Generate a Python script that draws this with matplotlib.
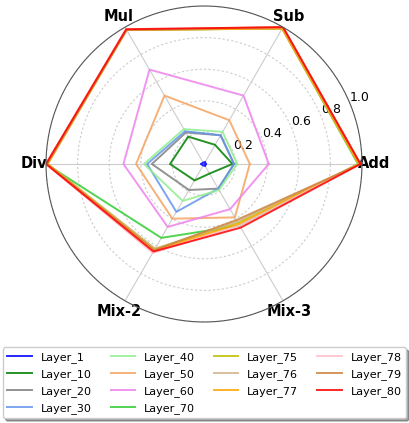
import numpy as np
import matplotlib.pyplot as plt

tasks = ['Add', 'Sub', 'Mul', 'Div', 'Mix-2', 'Mix-3']
layers = ['Layer_1', 'Layer_10', 'Layer_20', 'Layer_30', 'Layer_40', 'Layer_50',
          'Layer_60', 'Layer_70', 'Layer_75', 'Layer_76', 'Layer_77', 'Layer_78',
          'Layer_79', 'Layer_80']
colors = ['blue', 'green', 'gray', 'cornflowerblue', 'lightgreen', 'sandybrown',
          'violet', 'limegreen', 'y', 'tan', 'orange', 'pink', 'peru', 'red']

# accuracy per task: Add, Sub, Mul, Div, Mix-2, Mix-3
layer_1 = [0.01, 0.015, 0.01, 0.02, 0.01, 0.015]
layer_10 = [0.18, 0.14, 0.20, 0.215, 0.12, 0.07]
layer_20 = [0.19, 0.21, 0.23, 0.33, 0.19, 0.18]
layer_30 = [0.19, 0.21, 0.24, 0.36, 0.35, 0.18]
layer_40 = [0.21, 0.235, 0.255, 0.38, 0.27, 0.19]
layer_50 = [0.29, 0.32, 0.50, 0.43, 0.40, 0.39]
layer_60 = [0.41, 0.50, 0.69, 0.51, 0.46, 0.33]
layer_70 = [0.975, 0.99, 0.98, 1.0, 0.54, 0.45]
layer_75 = [0.98, 0.99, 0.98, 0.99, 0.62, 0.43]
layer_76 = [0.985, 0.99, 0.98, 0.99, 0.62, 0.42]
layer_77 = [0.98, 0.99, 0.98, 0.99, 0.63, 0.44]
layer_78 = [0.99, 1.0, 0.985, 1.0, 0.65, 0.45]
layer_79 = [0.99, 1.0, 0.98, 0.995, 0.63, 0.41]
layer_80 = [0.99, 1.0, 0.985, 1.0, 0.64, 0.465]

values = [layer_1, layer_10, layer_20, layer_30, layer_40, layer_50, layer_60,
          layer_70, layer_75, layer_76, layer_77, layer_78, layer_79, layer_80]

angles = np.linspace(0, 2*np.pi, len(tasks), endpoint=False)
angles_c = np.append(angles, angles[0])

fig = plt.figure(figsize=(4.09, 4.23), dpi=100)
ax = fig.add_axes([0.1125, 0.2388, 0.7726, 0.747], projection='polar')

for name, col, v in zip(layers, colors, values):
    ax.plot(angles_c, v + v[:1], color=col, lw=1.4, alpha=0.85, label=name)

ax.set_ylim(0, 1.0)
ax.set_yticks([0.2, 0.4, 0.6, 0.8, 1.0])
ax.set_yticklabels(['0.2', '0.4', '0.6', '0.8', '1.0'], fontsize=9)
ax.set_thetagrids(np.degrees(angles), tasks, fontsize=10.5, fontweight='bold')
ax.yaxis.grid(True, color='#cccccc', linestyle=(0, (2, 2)), lw=0.8)
ax.xaxis.grid(True, color='#cccccc', linestyle='-', lw=0.8)
ax.spines['polar'].set_color('#555555')
ax.spines['polar'].set_linewidth(0.8)
ax.tick_params(axis='x', pad=-2)

fig.legend(loc='upper center', bbox_to_anchor=(0.5, 0.192), ncol=4,
           fontsize=8, fancybox=True, shadow=True, labelspacing=0.55,
           columnspacing=1.7, handlelength=2.2, handletextpad=0.8)

plt.savefig('out.png', dpi=100)
